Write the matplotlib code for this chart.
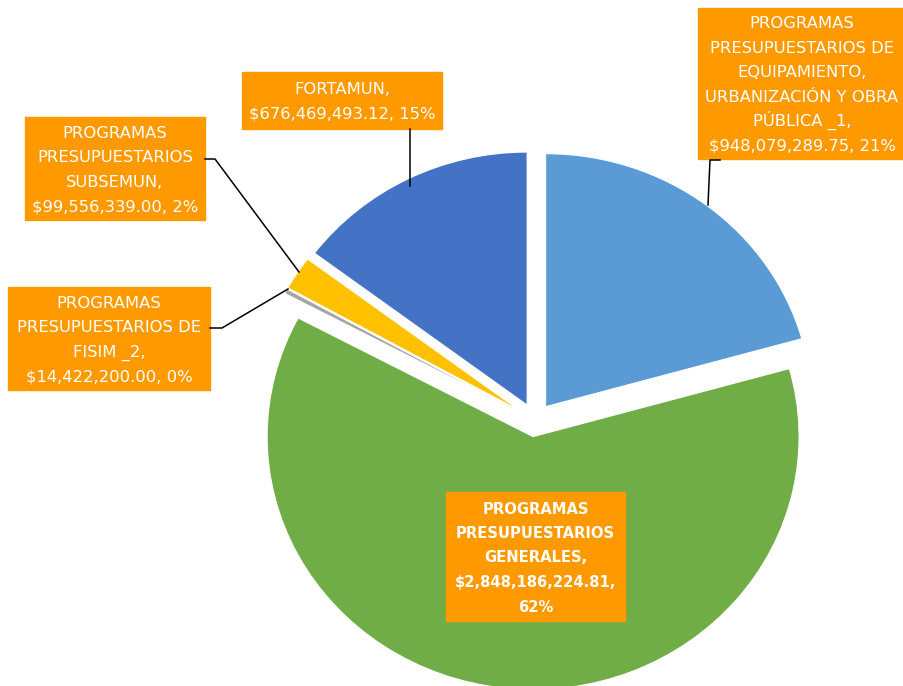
import matplotlib
matplotlib.use('Agg')
import matplotlib.pyplot as plt
from matplotlib.patches import Rectangle
from matplotlib.lines import Line2D

# datos del presupuesto
categorias = [
    'PROGRAMAS\nPRESUPUESTARIOS DE\nEQUIPAMIENTO,\nURBANIZACIÓN Y OBRA\nPÚBLICA _1',
    'PROGRAMAS\nPRESUPUESTARIOS\nGENERALES',
    'PROGRAMAS\nPRESUPUESTARIOS DE\nFISIM _2',
    'PROGRAMAS\nPRESUPUESTARIOS\nSUBSEMUN',
    'FORTAMUN',
]
montos = [948079289.75, 2848186224.81, 14422200.00, 99556339.00, 676469493.12]
colores = ['#5B9BD5', '#70AD47', '#A5A5A5', '#FFC000', '#4472C4']

W, H = 904, 686
CX, CY = 535, 420      # centro del pastel en pixeles
RX, RY = 266, 253      # radios (la imagen esta un poco estirada)
NARANJA = '#FF9900'
PASO = 24.5            # separacion entre renglones, px

plt.rcParams['font.family'] = ['DejaVu Sans']

fig = plt.figure(figsize=(W / 100, H / 100), dpi=100)
ax = fig.add_axes([0, 0, 1, 1])
ax.pie(montos, colors=colores, startangle=90, counterclock=False,
       explode=[0.066] * len(montos), radius=1,
       wedgeprops=dict(edgecolor='white', linewidth=0.8))
ax.set_aspect('auto')
ax.set_xlim(-CX / RX, (W - CX) / RX)
ax.set_ylim((CY - H) / RY, CY / RY)
ax.axis('off')


def fx(x, y):
    return x / W, 1 - y / H


total = sum(montos)


def etiqueta(i):
    pct = round(montos[i] / total * 100)
    return f'{categorias[i]},\n${montos[i]:,.2f}, {pct}%'


# cajas de etiquetas: (x0, y0, x1, y1) en pixeles
cajas = [
    (698, 8, 910, 159),
    (446, 492, 625, 621),
    (8, 287, 210, 390),
    (25, 117, 205, 220),
    (242, 72, 442, 129),
]
for i, (x0, y0, x1, y1) in enumerate(cajas):
    fig.patches.append(Rectangle(fx(x0, y1), (x1 - x0) / W, (y1 - y0) / H,
                                 transform=fig.transFigure, color=NARANJA,
                                 zorder=3))
    txt = etiqueta(i)
    peso = 'normal'
    tam = 11.8
    if i == 1:
        txt = txt.replace('.81, ', '.81,\n')
        peso = 'bold'
        tam = 10.6
    cx = (x0 + x1) / 2 if i != 0 else 802
    cy = (y0 + y1) / 2
    renglones = txt.split('\n')
    n = len(renglones)
    for k, r in enumerate(renglones):
        yb = cy + (k - (n - 1) / 2) * PASO + 6
        fig.text(*fx(cx, yb), r, ha='center', va='baseline',
                 color='white', fontsize=tam, fontweight=peso, zorder=4)

# lineas guia
guias = [
    [(720, 160), (710, 160), (708, 205)],
    [(210, 328), (222, 328), (288, 289)],
    [(205, 159), (215, 159), (299, 272)],
    [(410, 129), (410, 186)],
]
for g in guias:
    xs = [fx(*p)[0] for p in g]
    ys = [fx(*p)[1] for p in g]
    fig.lines.append(Line2D(xs, ys, transform=fig.transFigure,
                            color='black', linewidth=1.1, zorder=5))

fig.savefig('out.png', dpi=100)
